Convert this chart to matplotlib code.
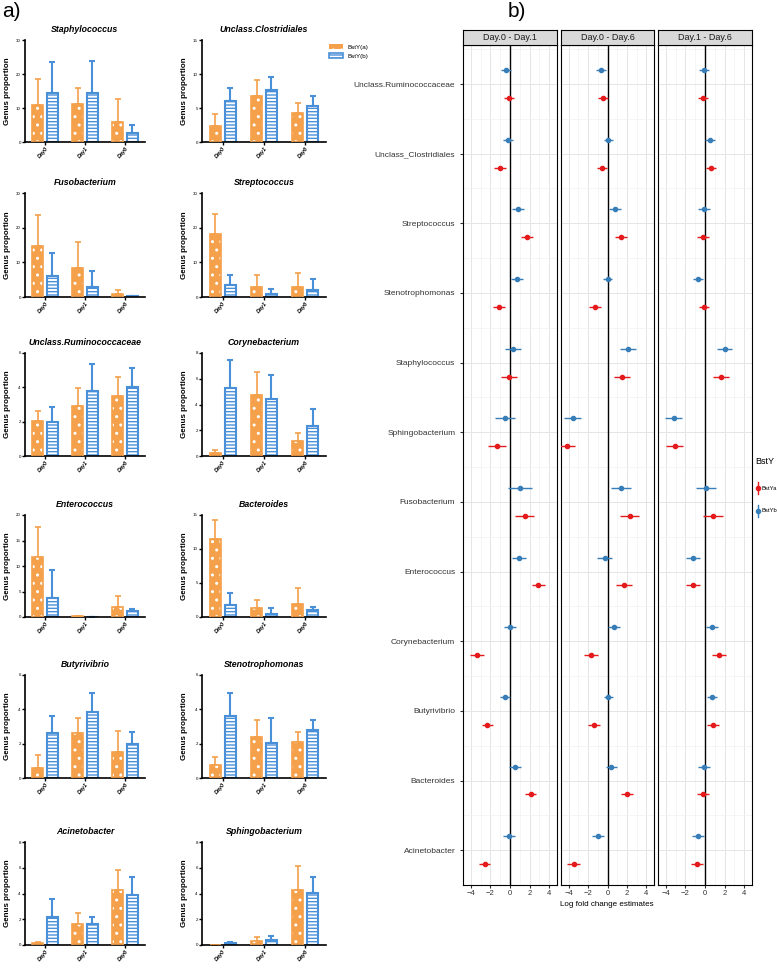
import matplotlib.pyplot as plt
import numpy as np
from matplotlib.lines import Line2D
from matplotlib.patches import Rectangle

# ---- panel a data ----
days = ["Day0", "Day1", "Day6"]
genus_a = ["Staphylococcus", "Unclass.Clostridiales",
           "Fusobacterium", "Streptococcus",
           "Unclass.Ruminococcaceae", "Corynebacterium",
           "Enterococcus", "Bacteroides",
           "Butyrivibrio", "Stenotrophomonas",
           "Acinetobacter", "Sphingobacterium"]
ymax_a = [30, 15, 30, 30, 6, 8, 20, 15, 6, 6, 8, 8]
ystep_a = [10, 5, 10, 10, 2, 2, 5, 5, 2, 2, 2, 2]
mean_a = [[10.8, 11.3, 5.9], [2.4, 6.8, 4.2], [14.7, 8.4, 1.0], [18.2, 2.9, 2.9],
          [2.05, 2.9, 3.5], [0.26, 4.7, 1.16], [11.8, 0.13, 2.0], [11.4, 1.3, 1.9],
          [0.6, 2.65, 1.52], [0.74, 2.4, 2.1], [0.13, 1.64, 4.26], [0.02, 0.31, 4.26]]
sd_a = [[7.7, 4.7, 6.7], [1.7, 2.3, 1.6], [9.0, 7.5, 1.05], [5.8, 3.4, 4.1],
        [0.6, 1.07, 1.13], [0.18, 1.83, 0.62], [5.8, 0.05, 2.2], [2.9, 1.2, 2.3],
        [0.75, 0.85, 1.23], [0.49, 0.97, 0.57], [0.1, 0.83, 1.58], [0.01, 0.29, 1.87]]
mean_b = [[14.5, 14.3, 2.75], [6.0, 7.7, 5.27], [6.0, 2.8, 0.2], [3.4, 0.9, 2.0],
          [2.0, 3.8, 4.0], [5.26, 4.44, 2.3], [3.8, 0.05, 1.1], [1.7, 0.5, 1.0],
          [2.63, 3.86, 2.0], [3.6, 2.03, 2.79], [2.18, 1.61, 3.9], [0.16, 0.39, 4.03]]
sd_b = [[8.9, 9.5, 2.15], [1.95, 1.8, 1.5], [6.7, 4.7, 0.05], [2.9, 1.4, 3.3],
        [0.85, 1.58, 1.1], [2.17, 1.83, 1.34], [5.5, 0.02, 0.5], [1.8, 0.8, 0.5],
        [0.97, 1.07, 0.7], [1.33, 1.47, 0.61], [1.4, 0.59, 1.35], [0.1, 0.29, 1.29]]

# ---- panel b data (bottom to top) ----
genus_b = ["Acinetobacter", "Bacteroides", "Butyrivibrio", "Corynebacterium",
           "Enterococcus", "Fusobacterium", "Sphingobacterium", "Staphylococcus",
           "Stenotrophomonas", "Streptococcus", "Unclass_Clostridiales",
           "Unclass.Ruminococcaceae"]
comparisons = ["Day.0 - Day.1", "Day.0 - Day.6", "Day.1 - Day.6"]
lfc_a = [[-2.6, 2.1, -2.3, -3.4, 2.9, 1.5, -1.3, -0.1, -1.1, 1.7, -1.0, -0.1],
         [-3.5, 2.0, -1.4, -1.7, 1.7, 2.3, -4.2, 1.5, -1.3, 1.4, -0.6, -0.5],
         [-0.8, -0.2, 0.8, 1.4, -1.2, 0.8, -3.1, 1.6, -0.1, -0.2, 0.6, -0.2]]
lfc_a_err = [[0.6, 0.6, 0.6, 0.7, 0.7, 1.0, 0.9, 0.8, 0.6, 0.6, 0.6, 0.5],
             [0.7, 0.6, 0.6, 0.7, 0.8, 1.0, 0.8, 0.8, 0.6, 0.6, 0.5, 0.5],
             [0.6, 0.6, 0.6, 0.7, 0.7, 1.0, 0.9, 0.8, 0.5, 0.6, 0.5, 0.5]]
lfc_b = [[-0.1, 0.5, -0.5, 0.0, 0.9, 1.0, -0.5, 0.3, 0.7, 0.8, -0.2, -0.4],
         [-1.0, 0.4, 0.1, 0.7, -0.3, 1.4, -3.6, 2.1, 0.0, 0.8, 0.1, -0.7],
         [-0.7, -0.1, 0.7, 0.7, -1.2, 0.1, -3.2, 2.0, -0.7, -0.1, 0.5, -0.1]]
lfc_b_err = [[0.6, 0.6, 0.5, 0.6, 0.7, 1.2, 1.0, 0.8, 0.6, 0.6, 0.5, 0.5],
             [0.6, 0.6, 0.5, 0.6, 0.8, 1.0, 0.9, 0.8, 0.5, 0.6, 0.5, 0.5],
             [0.6, 0.6, 0.5, 0.6, 0.7, 1.0, 0.9, 0.8, 0.5, 0.6, 0.5, 0.5]]

W, H = 777, 973
orange = "#F5A04A"
blue = "#4A90D9"
red_pt = "#E41A1C"
blue_pt = "#377EB8"
sans = ["Liberation Sans", "DejaVu Sans"]

plt.rcParams['hatch.linewidth'] = 1.0
plt.rcParams['font.family'] = sans
fig = plt.figure(figsize=(W / 100, H / 100), dpi=100)


def box(l, t, r, b):
    return [l / W, 1 - b / H, (r - l) / W, (b - t) / H]


rows = [(40, 142), (193, 297), (353, 456), (515, 617), (675, 778), (842, 945)]
cols = [(25, 145), (202, 326)]
x = np.arange(3)
bw = 0.27
off = 0.18

for i, g in enumerate(genus_a):
    r, c = divmod(i, 2)
    t, b = rows[r]
    l, rr = cols[c]
    ax = fig.add_axes(box(l, t, rr, b))
    zeros = np.zeros(3)
    # BstY(a): orange with white dots
    ax.bar(x - off, mean_a[i], bw, color=orange, edgecolor="white", hatch="..", lw=0, zorder=2)
    ax.bar(x - off, mean_a[i], bw, fill=False, edgecolor=orange, lw=1.2, zorder=3)
    ax.errorbar(x - off, mean_a[i], yerr=[zeros, sd_a[i]], fmt="none", ecolor=orange,
                elinewidth=1.2, capsize=2.5, capthick=1.2, zorder=1)
    # BstY(b): white with blue lines
    ax.bar(x + off, mean_b[i], bw, color="white", edgecolor=blue, hatch="-----", lw=1.5, zorder=2)
    ax.errorbar(x + off, mean_b[i], yerr=[zeros, sd_b[i]], fmt="none", ecolor=blue,
                elinewidth=1.5, capsize=2.5, capthick=1.5, zorder=1)
    ax.set_xlim(-0.5, 2.5)
    ax.set_ylim(0, ymax_a[i])
    ax.set_yticks(np.arange(0, ymax_a[i] + 0.01, ystep_a[i]))
    ax.tick_params(axis="y", labelsize=3.2, length=2, width=1, pad=1)
    ax.set_xticks(x)
    ax.set_xticklabels(days, rotation=50, fontsize=4, fontweight="bold", style="italic",
                       ha="right", rotation_mode="anchor")
    ax.tick_params(axis="x", length=2, width=1, pad=1)
    for s in ["top", "right"]:
        ax.spines[s].set_visible(False)
    for s in ["left", "bottom"]:
        ax.spines[s].set_linewidth(1.2)
    ax.set_title(g, fontsize=6.3, fontweight="bold", style="italic", pad=6)
    ax.set_ylabel("Genus proportion", fontsize=5.8, fontweight="bold")
    ax.yaxis.set_label_coords(-14 / (rr - l), 0.5)
    if i == 1:
        h1 = Rectangle((0, 0), 1, 1, facecolor=orange, edgecolor="white", hatch="..", lw=0)
        h2 = Rectangle((0, 0), 1, 1, facecolor="white", edgecolor=blue, hatch="-----", lw=1.2)
        ax.legend([h1, h2], ["BstY(a)", "BstY(b)"], loc="upper left", bbox_to_anchor=(0.98, 1.02),
                  frameon=False, fontsize=4.5, handlelength=2.2, handleheight=1.0)

fig.text(2 / W, 1 - 2 / H, "a)", fontsize=15, va="top", ha="left")
fig.text(508 / W, 1 - 2 / H, "b)", fontsize=15, va="top", ha="left")

# ---- panel b ----
panel_x = [(463, 557), (561, 654), (658, 752)]
ptop, pbot = 45, 885
ypos = np.arange(len(genus_b))
for k, comp in enumerate(comparisons):
    l, r = panel_x[k]
    ax = fig.add_axes(box(l, ptop, r, pbot))
    ax.set_xlim(-4.8, 4.8)
    ax.set_ylim(-0.27, 11.56)
    ax.set_xticks([-4, -2, 0, 2, 4])
    ax.set_xticks([-3, -1, 1, 3], minor=True)
    ax.set_yticks(ypos)
    ax.set_yticks(np.arange(-0.5, 12, 1), minor=True)
    ax.grid(True, which="major", color="#E5E5E5", lw=0.7)
    ax.grid(True, which="minor", color="#F2F2F2", lw=0.5)
    ax.set_axisbelow(True)
    ax.axvline(0, color="black", lw=1.0, zorder=2)
    ax.errorbar(lfc_b[k], ypos + 0.2, xerr=lfc_b_err[k], fmt="o", color=blue_pt, ms=3,
                elinewidth=1.0, capsize=0, zorder=3)
    ax.errorbar(lfc_a[k], ypos - 0.2, xerr=lfc_a_err[k], fmt="o", color=red_pt, ms=3,
                elinewidth=1.0, capsize=0, zorder=3)
    ax.tick_params(axis="both", which="minor", length=0)
    ax.tick_params(axis="x", labelsize=5.5, length=2, pad=1.5, colors="#333333")
    if k == 0:
        ax.set_yticklabels(genus_b, fontsize=6)
        ax.tick_params(axis="y", length=2, colors="#333333")
    else:
        ax.set_yticklabels([])
        ax.tick_params(axis="y", length=0)
    for s in ax.spines.values():
        s.set_linewidth(0.8)
    # strip
    sax = fig.add_axes(box(l, 30, r, ptop))
    sax.set_facecolor("#D9D9D9")
    sax.set_xticks([])
    sax.set_yticks([])
    for s in sax.spines.values():
        s.set_linewidth(0.8)
    sax.text(0.5, 0.5, comp, ha="center", va="center", fontsize=6.5, color="#1A1A1A")

fig.text(607 / W, 1 - 905 / H, "Log fold change estimates", fontsize=5.8, ha="center", va="center")

# legend for panel b, placed by hand in the narrow right margin
fig.text(755 / W, 1 - 461 / H, "BstY", fontsize=6.5, ha="left", va="center")
for yy, col, lab in [(488, red_pt, "BstYa"), (511, blue_pt, "BstYb")]:
    fig.add_artist(Line2D([758 / W, 758 / W], [1 - (yy - 6) / H, 1 - (yy + 6) / H], color=col, lw=1.0))
    fig.add_artist(Line2D([758 / W], [1 - yy / H], color=col, marker="o", ms=3, lw=0))
    fig.text(762 / W, 1 - yy / H, lab, fontsize=4.2, ha="left", va="center")

fig.savefig("out.png", dpi=100)
